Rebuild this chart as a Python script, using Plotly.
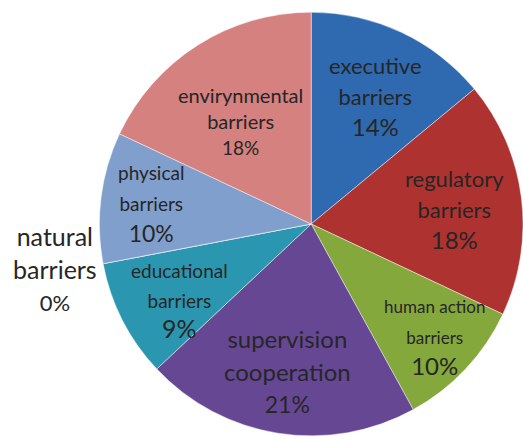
import math
import plotly.graph_objects as go

names = ["executive<br>barriers", "regulatory<br>barriers", "human action<br>barriers",
         "supervision<br>cooperation", "educational<br>barriers", "natural<br>barriers",
         "physical<br>barriers", "envirynmental<br>barriers"]
values = [14, 18, 10, 21, 9, 0, 10, 18]
colors = ["#2F69AF", "#AE322F", "#84A83C", "#664794", "#2B96B0", "#FFFFFF", "#819FCC", "#D48180"]
# label styling (name font size, percent font size, line-spacing base size, radial position, shift)
name_sizes = [22, 22, 17, 24, 19, 25, 19, 20]
pct_sizes = [24, 24, 24, 23, 25, 22, 23, 19]
line_sizes = [24, 24, 24, 25, 23, 25, 24, 20]
label_r = [0.71, 0.68, 0.80, 0.72, 0.70, 1.23, 0.76, 0.62]
label_yshift = [0, 0, 0, 0, -10, 5, 4, 0]

W, H = 523, 442
ml, mr, mt, mb = 0, 0, 12, 6
dom_x = [0.19, 1.0]

fig = go.Figure(go.Pie(
    labels=[n.replace("<br>", " ") for n in names],
    values=values,
    sort=False,
    direction="clockwise",
    rotation=0,
    marker=dict(colors=colors, line=dict(color="rgba(255,255,255,0.45)", width=1)),
    textinfo="none",
    hoverinfo="label+percent",
    showlegend=False,
    domain=dict(x=dom_x, y=[0, 1]),
))

# pie geometry in pixels (plotly fits the pie in its domain box)
pw = W - ml - mr
ph = H - mt - mb
dx0, dx1 = ml + dom_x[0] * pw, ml + dom_x[1] * pw
cx = (dx0 + dx1) / 2
cy = mt + ph / 2
R = min(dx1 - dx0, ph) / 2

total = sum(values)
cum = 0
for i, v in enumerate(values):
    mid = (cum + v / 2) / total * 2 * math.pi
    cum += v
    px_ = cx + label_r[i] * R * math.sin(mid)
    py_ = cy - label_r[i] * R * math.cos(mid)
    lines = names[i].split("<br>")
    name_txt = "<br>".join(f"<span style='font-size:{name_sizes[i]}px'>{ln}</span>" for ln in lines)
    txt = f"{name_txt}<br><span style='font-size:{pct_sizes[i]}px'>{round(v / total * 100)}%</span>"
    fig.add_annotation(
        text=txt, x=px_ / W, y=1 - py_ / H, xref="paper", yref="paper",
        xanchor="center", yanchor="middle", showarrow=False, yshift=label_yshift[i],
        font=dict(family="Lato", size=line_sizes[i], color="#262626"),
    )

fig.update_layout(
    width=W, height=H,
    margin=dict(l=ml, r=mr, t=mt, b=mb),
    paper_bgcolor="white",
    plot_bgcolor="white",
)
fig.write_html("out.html", config={"displayModeBar": False},
               post_script="document.body.style.margin='0px';")
